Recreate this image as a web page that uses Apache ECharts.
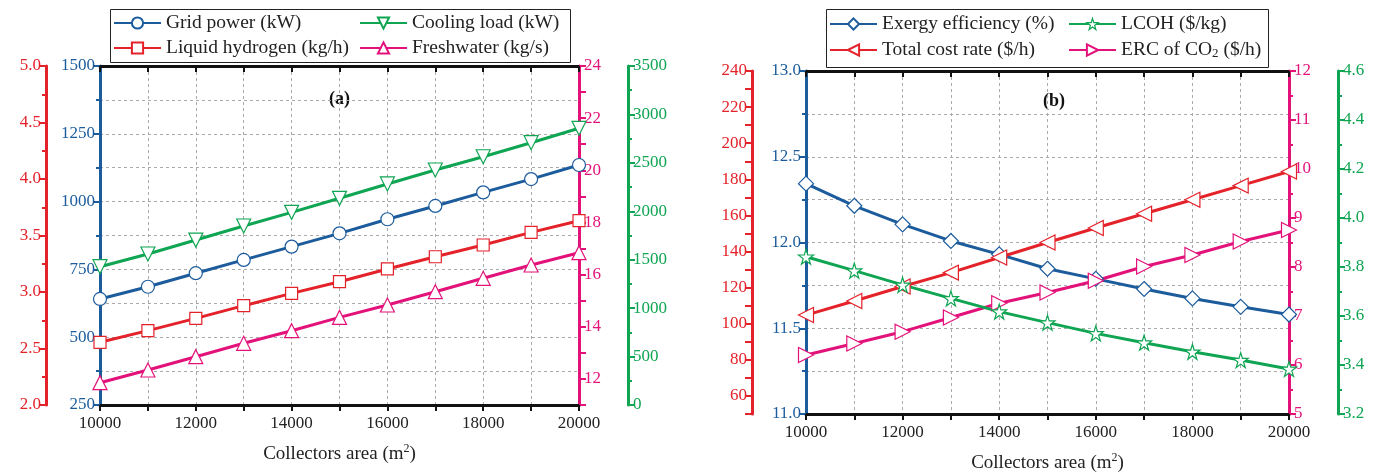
<!DOCTYPE html>
<html><head><meta charset="utf-8">
<script src="https://cdn.jsdelivr.net/npm/echarts@6/dist/echarts.min.js"></script>
<style>html,body{margin:0;padding:0;background:#fff}#c{width:1388px;height:472px}</style>
</head><body><div id="c"></div>
<script>
const xValues = [10000, 11000, 12000, 13000, 14000, 15000, 16000, 17000, 18000, 19000, 20000];
// panel (a)
const gridPower = [641, 686, 736, 785, 834, 883, 935, 984, 1034, 1083, 1135];
const coolingLoad = [1428, 1559, 1703, 1848, 1989, 2134, 2282, 2426, 2563, 2708, 2857];
const liquidHydrogen = [2.555, 2.658, 2.767, 2.879, 2.988, 3.091, 3.204, 3.312, 3.416, 3.528, 3.631];
const freshwater = [11.855, 12.342, 12.852, 13.366, 13.85, 14.36, 14.834, 15.344, 15.858, 16.368, 16.84];
// panel (b)
const exergyEff = [12.343, 12.214, 12.106, 12.009, 11.931, 11.847, 11.788, 11.729, 11.674, 11.625, 11.58];
const totalCost = [104.8, 112.6, 120.6, 128.3, 136.7, 145.0, 153.0, 160.9, 168.7, 176.5, 184.3];
const ercCO2 = [6.204, 6.44, 6.68, 6.97, 7.26, 7.48, 7.72, 8.01, 8.245, 8.52, 8.755];
const lcoh = [3.842, 3.785, 3.727, 3.672, 3.618, 3.573, 3.529, 3.491, 3.454, 3.42, 3.384];

const names = {
  gp: 'Grid power (kW)', cl: 'Cooling load (kW)', lh: 'Liquid hydrogen (kg/h)', fw: 'Freshwater (kg/s)',
  ex: 'Exergy efficiency (%)', lc: 'LCOH ($/kg)', tc: 'Total cost rate ($/h)', erc: 'ERC of CO2 ($/h)'
};

const BLUE = '#1c5c9c', RED = '#e4222a', PINK = '#e3127a', GREEN = '#0fa552';
const FONT = 'Liberation Serif';
const STAR = 'path://M50,0 L61,35 L98,35 L68,57 L79,91 L50,70 L21,91 L32,57 L2,35 L39,35 Z';

function pairs(arr) { return xValues.map((x, i) => [x, arr[i]]); }
const plain = v => String(v);

function xAx(gi, pos, gap) {
  const top = pos === 'top';
  return {
    type: 'value', gridIndex: gi, position: pos, min: 10000, max: 20000, interval: 2000,
    axisLine: { show: true, onZero: false, lineStyle: { color: '#111', width: 3 } },
    axisTick: { show: true, inside: top, length: 6, lineStyle: { color: '#111', width: 2 } },
    minorTick: { show: true, splitNumber: 2, length: 6, lineStyle: { color: '#111', width: 2 } },
    axisLabel: { show: !top, fontFamily: FONT, fontSize: 17, color: '#222', margin: 10, formatter: plain },
    splitLine: { show: !top, lineStyle: { color: '#aaa', type: [3, 3], width: 1 } },
    minorSplitLine: { show: !top, lineStyle: { color: '#aaa', type: [3, 3], width: 1 } },
    name: top ? '' : 'Collectors area (m{sup|2})',
    nameLocation: 'middle', nameGap: gap,
    nameTextStyle: { fontFamily: FONT, fontSize: 19, color: '#222',
      rich: { sup: { fontFamily: FONT, fontSize: 12, color: '#222', verticalAlign: 'top', padding: [0, 0, 10, 0] } } }
  };
}

function yAx(gi, pos, offset, color, min, max, interval, opts) {
  opts = opts || {};
  return {
    type: 'value', gridIndex: gi, position: pos, offset: offset, min: min, max: max, interval: interval,
    axisLine: { show: true, onZero: false, lineStyle: { color: color, width: 3 } },
    axisTick: { show: true, length: 7, lineStyle: { color: color, width: 2 } },
    minorTick: { show: opts.minor !== false, splitNumber: 2, length: 4, lineStyle: { color: color, width: 2 } },
    axisLabel: { fontFamily: FONT, fontSize: 17, color: color, margin: 5, formatter: opts.fmt || plain },
    splitLine: { show: !!opts.grid, lineStyle: { color: '#aaa', type: [3, 3], width: 1 } },
    minorSplitLine: { show: !!opts.grid, lineStyle: { color: '#aaa', type: [3, 3], width: 1 } }
  };
}

function ser(name, xi, yi, arr, color, symbol, rot, size) {
  return {
    type: 'line', name: name, xAxisIndex: xi, yAxisIndex: yi, data: pairs(arr),
    symbol: symbol, symbolRotate: rot || 0, symbolSize: size || 13, showAllSymbol: true,
    lineStyle: { color: color, width: 3 },
    itemStyle: { color: '#fff', borderColor: color, borderWidth: 1.2 },
    emphasis: { disabled: true }, z: 3
  };
}

function leg(name, left, top, color) {
  const l = {
    data: [name], left: left, top: top, padding: 0, itemWidth: 47, itemHeight: 14, itemGap: 0,
    selectedMode: false,
    textStyle: { fontFamily: FONT, fontSize: 19.5, color: '#222',
      rich: {
        a: { fontFamily: FONT, fontSize: 19.5, color: '#222' },
        s: { fontFamily: FONT, fontSize: 13, color: '#222', verticalAlign: 'bottom', padding: [8, 0, 0, 0] }
      } },
    formatter: function (n) {
      if (n === names.erc) return '{a|ERC of CO}{s|2}{a| ($/h)}';
      return n;
    }
  };
  if (color) l.itemStyle = { color: '#fff', borderColor: color, borderWidth: 1.2 };
  return l;
}

const option = {
  animation: false,
  backgroundColor: '#fff',
  grid: [
    { left: 100, top: 66, width: 479, height: 339, containLabel: false, outerBoundsMode: 'none' },
    { left: 806, top: 71, width: 483, height: 343, containLabel: false, outerBoundsMode: 'none' }
  ],
  xAxis: [xAx(0, 'bottom', 38), xAx(0, 'top', 38), xAx(1, 'bottom', 38), xAx(1, 'top', 38)],
  yAxis: [
    yAx(0, 'left', 0, BLUE, 250, 1500, 250, { grid: true }),
    yAx(0, 'left', 54, RED, 2.0, 5.0, 0.5, { fmt: v => v.toFixed(1) }),
    yAx(0, 'right', 0, PINK, 11, 24, 1, { minor: false, fmt: v => (v % 2 === 0 ? String(v) : '') }),
    yAx(0, 'right', 49, GREEN, 0, 3500, 500, {}),
    yAx(1, 'left', 0, BLUE, 11.0, 13.0, 0.5, { grid: true, fmt: v => v.toFixed(1) }),
    yAx(1, 'left', 54, RED, 50, 240, 10, { minor: false, fmt: v => (v % 20 === 0 ? String(v) : '') }),
    yAx(1, 'right', 0, PINK, 5, 12, 1, {}),
    yAx(1, 'right', 49, GREEN, 3.2, 4.6, 0.2, { fmt: v => v.toFixed(1) })
  ],
  legend: [
    leg(names.gp, 113, 13), leg(names.cl, 359, 13), leg(names.lh, 113, 38), leg(names.fw, 359, 38),
    leg(names.ex, 829, 14), leg(names.lc, 1068, 14, GREEN), leg(names.tc, 829, 40), leg(names.erc, 1068, 40)
  ],
  graphic: [
    { type: 'rect', shape: { x: 110.5, y: 9.5, width: 460, height: 53 }, style: { fill: 'none', stroke: '#222', lineWidth: 1 }, z: -1 },
    { type: 'rect', shape: { x: 826.5, y: 9.5, width: 442, height: 58 }, style: { fill: 'none', stroke: '#222', lineWidth: 1 }, z: -1 },
    { type: 'text', left: 329, top: 90, style: { text: '(a)', font: 'bold 18px "Liberation Serif"', fill: '#111' } },
    { type: 'text', left: 1043, top: 92, style: { text: '(b)', font: 'bold 18px "Liberation Serif"', fill: '#111' } }
  ],
  series: [
    ser(names.gp, 0, 0, gridPower, BLUE, 'circle', 0, 13),
    ser(names.lh, 0, 1, liquidHydrogen, RED, 'rect', 0, 12),
    ser(names.fw, 0, 2, freshwater, PINK, 'triangle', 0, 14),
    ser(names.cl, 0, 3, coolingLoad, GREEN, 'triangle', 180, 14),
    ser(names.ex, 2, 4, exergyEff, BLUE, 'diamond', 0, 15),
    ser(names.tc, 2, 5, totalCost, RED, 'triangle', 90, 15),
    ser(names.erc, 2, 6, ercCO2, PINK, 'triangle', -90, 15),
    ser(names.lc, 2, 7, lcoh, GREEN, STAR, 0, 15)
  ]
};

const chart = echarts.init(document.getElementById('c'), null, { renderer: 'canvas' });
chart.setOption(option);
</script>
</body></html>
